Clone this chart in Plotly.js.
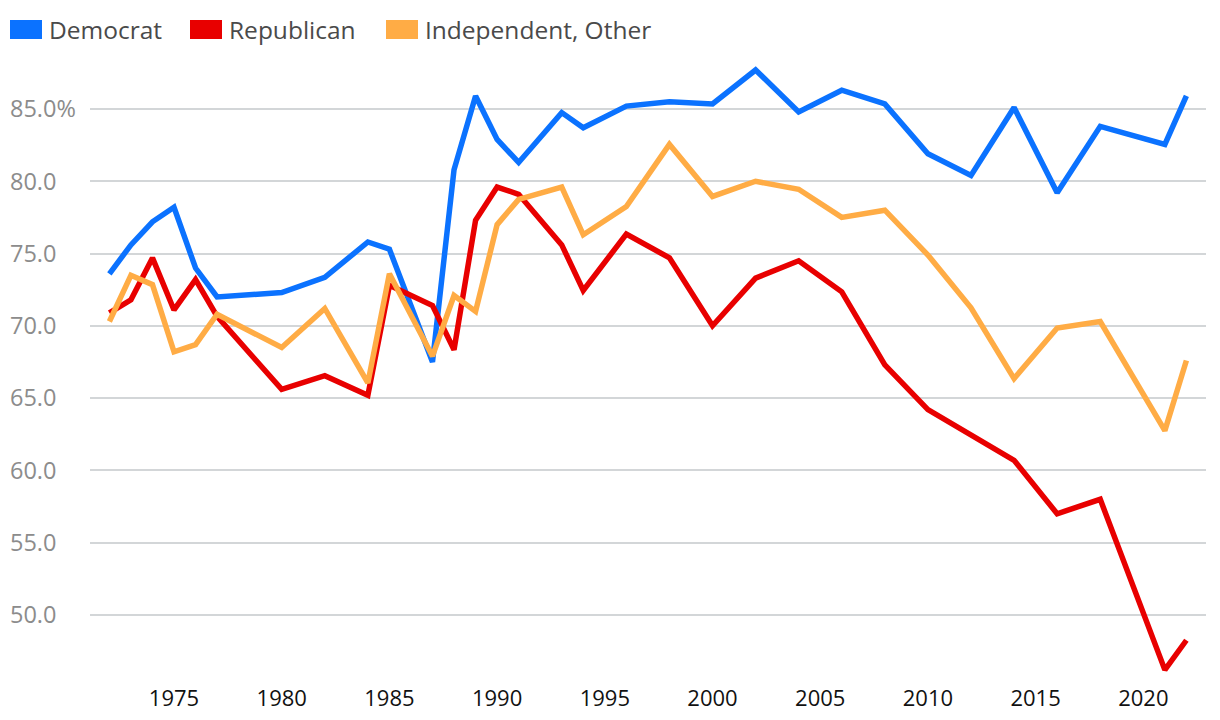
<!DOCTYPE html>
<html>
<head>
<meta charset="utf-8">
<script src="https://cdn.plot.ly/plotly-3.0.1.min.js"></script>
<style>html,body{margin:0;padding:0;background:#fff}#chart{width:1220px;height:720px}</style>
</head>
<body>
<div id="chart"></div>
<script>
const years = [1972,1973,1974,1975,1976,1977,1980,1982,1984,1985,1987,1988,1989,1990,1991,1993,1994,1996,1998,2000,2002,2004,2006,2008,2010,2012,2014,2016,2018,2021,2022];
const democrat = [73.6,75.6,77.2,78.2,74.0,72.0,72.3,73.35,75.8,75.3,67.5,80.8,85.9,82.9,81.3,84.75,83.7,85.2,85.5,85.35,87.7,84.8,86.3,85.35,81.9,80.4,85.1,79.2,83.8,82.55,85.9];
const republican = [70.9,71.8,74.7,71.1,73.2,70.65,65.6,66.55,65.2,72.8,71.4,68.35,77.3,79.6,79.1,75.6,72.45,76.35,74.7,70.0,73.3,74.5,72.35,67.3,64.2,62.5,60.7,57.0,58.0,46.2,48.25];
const independent = [70.3,73.5,72.85,68.2,68.7,70.8,68.5,71.2,66.05,73.6,67.9,72.1,71.0,77.0,78.75,79.6,76.3,78.25,82.55,78.95,80.0,79.45,77.5,78.0,74.9,71.25,66.35,69.85,70.3,62.75,67.6];
const seriesNames = ['Democrat','Republican','Independent, Other'];
const colors = ['#0B72FF','#E80000','#FFAC45'];
const yTickVals = [50,55,60,65,70,75,80,85];
const yTickText = ['50.0','55.0','60.0','65.0','70.0','75.0','80.0','85.0%'];
const xTickVals = [1975,1980,1985,1990,1995,2000,2005,2010,2015,2020];

const W = 1220, H = 720;
const FONT = '"Open Sans", "Noto Sans", sans-serif';
const px = v => v / W;          // pixel -> paper x
const py = v => 1 - v / H;      // pixel -> paper y

const seriesData = [democrat, republican, independent];
const traces = seriesData.map((vals, i) => ({
  type: 'scatter', mode: 'lines', x: years, y: vals, name: seriesNames[i],
  line: {color: colors[i], width: 5.5, shape: 'linear'},
  showlegend: false
}));
// secondary axis only carries the left-aligned tick labels
traces.push({type:'scatter', mode:'none', x:[years[0]], y:[democrat[0]], yaxis:'y2', showlegend:false, hoverinfo:'skip'});

// legend drawn as swatches + labels
const legendSwatchX = [10, 190, 386];
const shapes = [], annotations = [];
seriesNames.forEach((n, i) => {
  const x0 = legendSwatchX[i];
  shapes.push({type:'rect', xref:'paper', yref:'paper', x0: px(x0), x1: px(x0 + 32), y0: py(39), y1: py(20),
               fillcolor: colors[i], line: {width: 0}});
  annotations.push({xref:'paper', yref:'paper', x: px(x0 + 37), y: py(29.5), xanchor:'left', yanchor:'middle',
                    text: n, showarrow: false, font: {family: FONT, size: 24.5, color: '#4a4a4a'}});
});

const layout = {
  width: W, height: H,
  margin: {l: 0, r: 0, t: 0, b: 0, pad: 0, autoexpand: false},
  paper_bgcolor: '#fff', plot_bgcolor: '#fff',
  font: {family: FONT, size: 22, color: '#111'},
  showlegend: false,
  shapes: shapes, annotations: annotations,
  xaxis: {
    domain: [px(90), px(1206)], range: [1971.10, 2022.91],
    tickmode: 'array', tickvals: xTickVals,
    showgrid: false, zeroline: false, showline: false, ticks: '', ticklabelstandoff: 3,
    tickfont: {family: FONT, size: 22, color: '#111'}, automargin: false
  },
  yaxis: {
    domain: [1 - 680 / H, 1 - 60 / H],
    range: [45.50, 88.39], tickmode: 'array', tickvals: yTickVals,
    showticklabels: false, showgrid: true, gridcolor: '#D3D6D8', gridwidth: 2,
    zeroline: false, showline: false, ticks: '', automargin: false
  },
  yaxis2: {
    range: [45.50, 88.39], overlaying: 'y', anchor: 'free', position: px(6), side: 'left',
    tickmode: 'array', tickvals: yTickVals, ticktext: yTickText,
    ticklabelposition: 'inside', showgrid: false, zeroline: false, showline: false, ticks: '',
    tickfont: {family: FONT, size: 23.5, color: '#8c8c8c'}, automargin: false
  }
};
Plotly.newPlot('chart', traces, layout, {displayModeBar: false, staticPlot: true});
</script>
</body>
</html>
